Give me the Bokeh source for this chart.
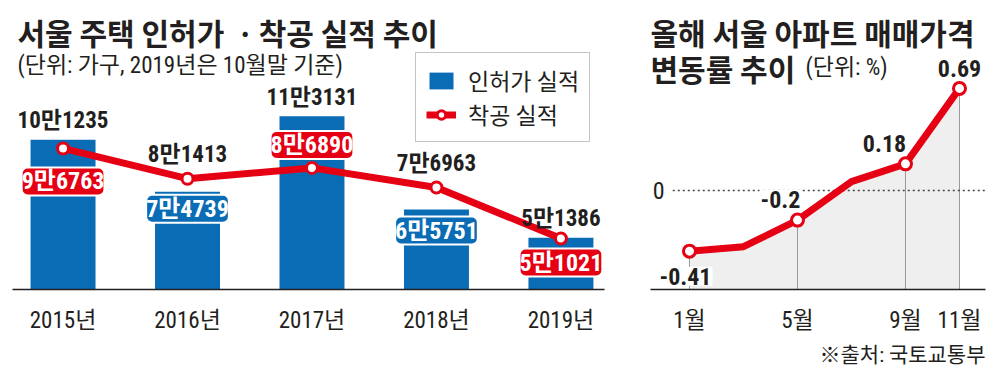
from bokeh.plotting import figure
from bokeh.models import Range1d, Label, Legend, LegendItem, FixedTicker, Title
from bokeh.layouts import row
from bokeh.core.properties import value
from bokeh.embed import file_html
from bokeh.resources import INLINE

# ---------------- data ----------------
years = ["2015년", "2016년", "2017년", "2018년", "2019년"]
permits = [101235, 74739, 113131, 65751, 51386]   # 인허가 실적 (bars)
starts = [96763, 81413, 86890, 76963, 51021]      # 착공 실적 (line)

months = [1, 3, 5, 7, 9, 11]
price_change = [-0.41, -0.38, -0.2, 0.06, 0.18, 0.69]
labeled_months = [1, 5, 9, 11]
month_labels = ["1월", "5월", "9월", "11월"]
zero_tick = [0]

left_title = "서울 주택 인허가 ㆍ착공 실적 추이"
left_subtitle = "(단위: 가구, 2019년은 10월말 기준)"
legend_labels = ["인허가 실적", "착공 실적"]
right_title_1 = "올해 서울 아파트 매매가격"
right_title_2 = "변동률 추이"
right_unit = "(단위: %)"
source_note = "※출처: 국토교통부"

# ---------------- style ----------------
BLUE = "#0b6cb6"
RED = "#e60013"
INK = "#231f20"
NARROW = "Roboto Condensed, Noto Sans CJK KR"
GOTHIC = "Noto Sans CJK KR"
W1, W2, H = 615, 385, 374


def man(v):
    return f"{v // 10000}만{v % 10000:04d}"


def style_xaxis(p):
    ax = p.xaxis[0]
    ax.axis_line_color = INK
    ax.axis_line_width = 1.5
    ax.major_tick_line_color = None
    ax.minor_tick_line_color = None
    ax.major_label_text_font = NARROW
    ax.major_label_text_font_size = "23px"
    ax.major_label_text_color = INK
    ax.major_label_standoff = 11


# ================= left chart =================
p1 = figure(width=W1, height=H, x_range=Range1d(-0.406, 4.35), y_range=Range1d(25119, 171924),
            output_backend="svg", toolbar_location=None, y_axis_location=None,
            min_border_left=12, min_border_right=11, min_border_top=0, min_border_bottom=85)
p1.outline_line_color = None
p1.grid.visible = False

xs = list(range(len(years)))
bars = p1.vbar(x=xs, top=permits, bottom=0, width=0.522, fill_color=BLUE, line_color=None)
line1 = p1.line(xs, starts, line_color=RED, line_width=7, line_join="round")
marks1 = p1.scatter(xs, starts, size=11, fill_color="white", line_color=RED, line_width=3)

p1.xaxis.ticker = FixedTicker(ticks=xs)
p1.xaxis.major_label_overrides = {i: y for i, y in enumerate(years)}
style_xaxis(p1)

# value labels: the higher series gets a plain label on top, the lower one a coloured tag
lower_offsets = [33, 17, -23, 21, 24]
top_x, top_y, top_t, top_off = [], [], [], []
red_x, red_y, red_t, red_off = [], [], [], []
blue_x, blue_y, blue_t, blue_off = [], [], [], []
for i in xs:
    if permits[i] >= starts[i]:
        top_x.append(i); top_y.append(permits[i]); top_t.append(man(permits[i])); top_off.append(-19)
        red_x.append(i); red_y.append(starts[i]); red_t.append(man(starts[i])); red_off.append(lower_offsets[i])
    else:
        top_x.append(i); top_y.append(starts[i]); top_t.append(man(starts[i])); top_off.append(-24)
        blue_x.append(i); blue_y.append(permits[i]); blue_t.append(man(permits[i])); blue_off.append(lower_offsets[i])

p1.text(x=top_x, y=top_y, text=top_t, y_offset=top_off, text_font=value(NARROW), text_font_style="bold",
        text_font_size="23px", text_color=INK, text_align="center", text_baseline="middle")
for tx, ty, tt, to, col in [(red_x, red_y, red_t, red_off, RED), (blue_x, blue_y, blue_t, blue_off, BLUE)]:
    p1.text(x=tx, y=ty, text=tt, y_offset=to, text_font=value(NARROW), text_font_style="bold",
            text_font_size="24px", text_color="white", text_align="center", text_baseline="middle",
            background_fill_color=col, border_line_color="white", border_line_width=2,
            padding=0, border_radius=6)

legend = Legend(items=[LegendItem(label=legend_labels[0], renderers=[bars]),
                       LegendItem(label=legend_labels[1], renderers=[line1, marks1])],
                location=(403, 147), orientation="vertical",
                glyph_width=30, glyph_height=21, label_standoff=12, padding=10, spacing=0, margin=0,
                label_text_font=NARROW, label_text_font_size="23px", label_text_color=INK,
                label_height=21,
                border_line_color="#8a8a8a", border_line_width=1, background_fill_color="white",
                background_fill_alpha=1)
p1.add_layout(legend)

p1.add_layout(Label(x=5, y=258, x_units="screen", y_units="screen", text=left_title,
                    text_font=GOTHIC, text_font_style="bold", text_font_size="30px",
                    text_color=INK, text_baseline="middle"))
p1.add_layout(Label(x=5, y=224, x_units="screen", y_units="screen", text=left_subtitle,
                    text_font=NARROW, text_font_size="23px",
                    text_color=INK, text_baseline="middle"))

# ================= right chart =================
p2 = figure(width=W2, height=H, x_range=Range1d(-0.444, 11.963), y_range=Range1d(-0.669, 1.284),
            output_backend="svg", toolbar_location=None,
            min_border_left=35, min_border_right=15, min_border_top=0, min_border_bottom=85)
p2.outline_line_color = None
p2.grid.visible = False

ybase = p2.y_range.start
labeled_vals = [price_change[months.index(m)] for m in labeled_months]

p2.varea(x=months, y1=[ybase] * len(months), y2=price_change, fill_color="#efefef")
p2.segment(x0=labeled_months, y0=[ybase] * len(labeled_months), x1=labeled_months, y1=labeled_vals,
           line_color="#9a9a9a", line_width=1)
p2.ray(x=[months[0] - 0.62], y=zero_tick, length=0, angle=0, line_color="#444444",
       line_width=1.5, line_dash="2 3")
p2.line(months, price_change, line_color=RED, line_width=7, line_join="round")
p2.scatter(labeled_months, labeled_vals, size=12, fill_color="white", line_color=RED, line_width=3)

lab_dx = [-4, -17, -21, 0]
lab_dy = [25, -21, -20, -20]
p2.text(x=labeled_months, y=labeled_vals, text=[f"{v:g}" for v in labeled_vals],
        x_offset=lab_dx, y_offset=lab_dy, text_font=value(NARROW), text_font_style="bold",
        text_font_size="24px", text_color=INK, text_align="center", text_baseline="middle",
        background_fill_color="white", padding=1)

p2.xaxis.ticker = FixedTicker(ticks=labeled_months)
p2.xaxis.major_label_overrides = {m: t for m, t in zip(labeled_months, month_labels)}
style_xaxis(p2)

ya = p2.yaxis[0]
ya.ticker = FixedTicker(ticks=zero_tick)
ya.axis_line_color = None
ya.major_tick_line_color = None
ya.minor_tick_line_color = None
ya.major_label_standoff = -20
ya.major_label_text_font = NARROW
ya.major_label_text_font_size = "24px"
ya.major_label_text_color = INK

p2.add_layout(Label(x=0, y=258, x_units="screen", y_units="screen", text=right_title_1,
                    text_font=GOTHIC, text_font_style="bold", text_font_size="30px",
                    text_color=INK, text_baseline="middle"))
p2.add_layout(Label(x=0, y=222, x_units="screen", y_units="screen", text=right_title_2,
                    text_font=GOTHIC, text_font_style="bold", text_font_size="30px",
                    text_color=INK, text_baseline="middle"))
p2.add_layout(Label(x=155, y=222, x_units="screen", y_units="screen", text=right_unit,
                    text_font=NARROW, text_font_size="23px",
                    text_color=INK, text_baseline="middle"))
p2.add_layout(Title(text=source_note, align="right", text_font=NARROW, text_font_size="21px",
                    text_font_style="normal", text_color=INK, standoff=8), "below")

layout = row(p1, p2, spacing=0)
open("out.html", "w").write(file_html(layout, INLINE))
